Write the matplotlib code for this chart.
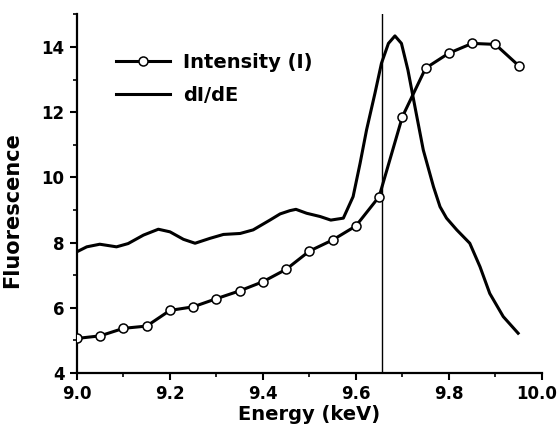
import matplotlib
matplotlib.use("Agg")
import matplotlib.pyplot as plt
import matplotlib.transforms as mtransforms
from matplotlib.ticker import MultipleLocator

plt.rcParams["font.family"] = ["DejaVu Sans"]
plt.rcParams["font.weight"] = "bold"

# intensity, measured every 50 eV
energy = [9.00, 9.05, 9.10, 9.15, 9.20, 9.25, 9.30, 9.35, 9.40, 9.45,
          9.50, 9.55, 9.60, 9.65, 9.70, 9.75, 9.80, 9.85, 9.90, 9.95]
intensity = [5.06, 5.14, 5.37, 5.44, 5.92, 6.03, 6.28, 6.52, 6.80, 7.18,
             7.74, 8.08, 8.51, 9.41, 11.86, 13.35, 13.81, 14.11, 14.08, 13.43]

# derivative curve
de_energy = [9.000, 9.021, 9.049, 9.085, 9.110, 9.143, 9.175, 9.200, 9.229, 9.254,
             9.286, 9.315, 9.351, 9.379, 9.415, 9.437, 9.458, 9.471, 9.494, 9.523,
             9.546, 9.573, 9.594, 9.609, 9.623, 9.641, 9.655, 9.670, 9.684, 9.698,
             9.712, 9.727, 9.745, 9.767, 9.781, 9.795, 9.817, 9.845, 9.867, 9.888,
             9.917, 9.949]
didE = [7.72, 7.87, 7.95, 7.87, 7.97, 8.23, 8.41, 8.33, 8.10, 7.98,
        8.13, 8.25, 8.28, 8.39, 8.69, 8.88, 8.98, 9.02, 8.90, 8.80,
        8.69, 8.75, 9.41, 10.43, 11.46, 12.58, 13.50, 14.11, 14.34, 14.11,
        13.29, 12.17, 10.84, 9.71, 9.10, 8.75, 8.39, 7.98, 7.26, 6.44,
        5.73, 5.22]

xticks = [9.0, 9.2, 9.4, 9.6, 9.8, 10.0]
xticklabels = ["9.0", "9.2", "9.4", "9.6", "9.8", "10.0"]
edge = 9.657

fig = plt.figure(figsize=(5.58, 4.36), dpi=100)
ax = fig.add_axes([0.138, 0.1445, 0.833, 0.8225])

ax.plot(energy, intensity, color="black", lw=2.2, marker="o", ms=6.5,
        mfc="white", mec="black", mew=1.1, label="Intensity (I)", zorder=3)
ax.plot(de_energy, didE, color="black", lw=2.2, label="dI/dE", zorder=2)
ax.axvline(edge, color="black", lw=1.0, zorder=1)

ax.set_xlim(9.0, 10.0)
ax.set_ylim(4, 15)
ax.xaxis.set_minor_locator(MultipleLocator(0.1))
ax.yaxis.set_major_locator(MultipleLocator(2))
ax.yaxis.set_minor_locator(MultipleLocator(1))
ax.set_xticks(xticks)
ax.set_xticklabels(xticklabels)

for s in ["top", "right"]:
    ax.spines[s].set_visible(False)
for s in ["left", "bottom"]:
    ax.spines[s].set_linewidth(1.6)

ax.tick_params(which="major", direction="out", length=5, width=1.5,
               labelsize=12, pad=4)
ax.tick_params(which="minor", direction="out", length=3, width=1.2)

# keep "10.0" inside the figure
last = ax.get_xticklabels()[-1]
last.set_transform(last.get_transform() +
                   mtransforms.ScaledTranslation(-5 / 100, 0, fig.dpi_scale_trans))

ax.set_xlabel("Energy (keV)", fontsize=14, fontweight="bold", labelpad=1)
ax.set_ylabel("Fluorescence", fontsize=15, fontweight="bold")
ax.yaxis.set_label_coords(-0.117, 0.455)

leg = ax.legend(loc="upper left", bbox_to_anchor=(0.084, 0.892), frameon=False,
                fontsize=14, handlelength=2.8, handletextpad=0.65,
                labelspacing=0.7, borderpad=0, borderaxespad=0)
for t in leg.get_texts():
    t.set_fontweight("bold")

fig.savefig("out.png", dpi=100)
